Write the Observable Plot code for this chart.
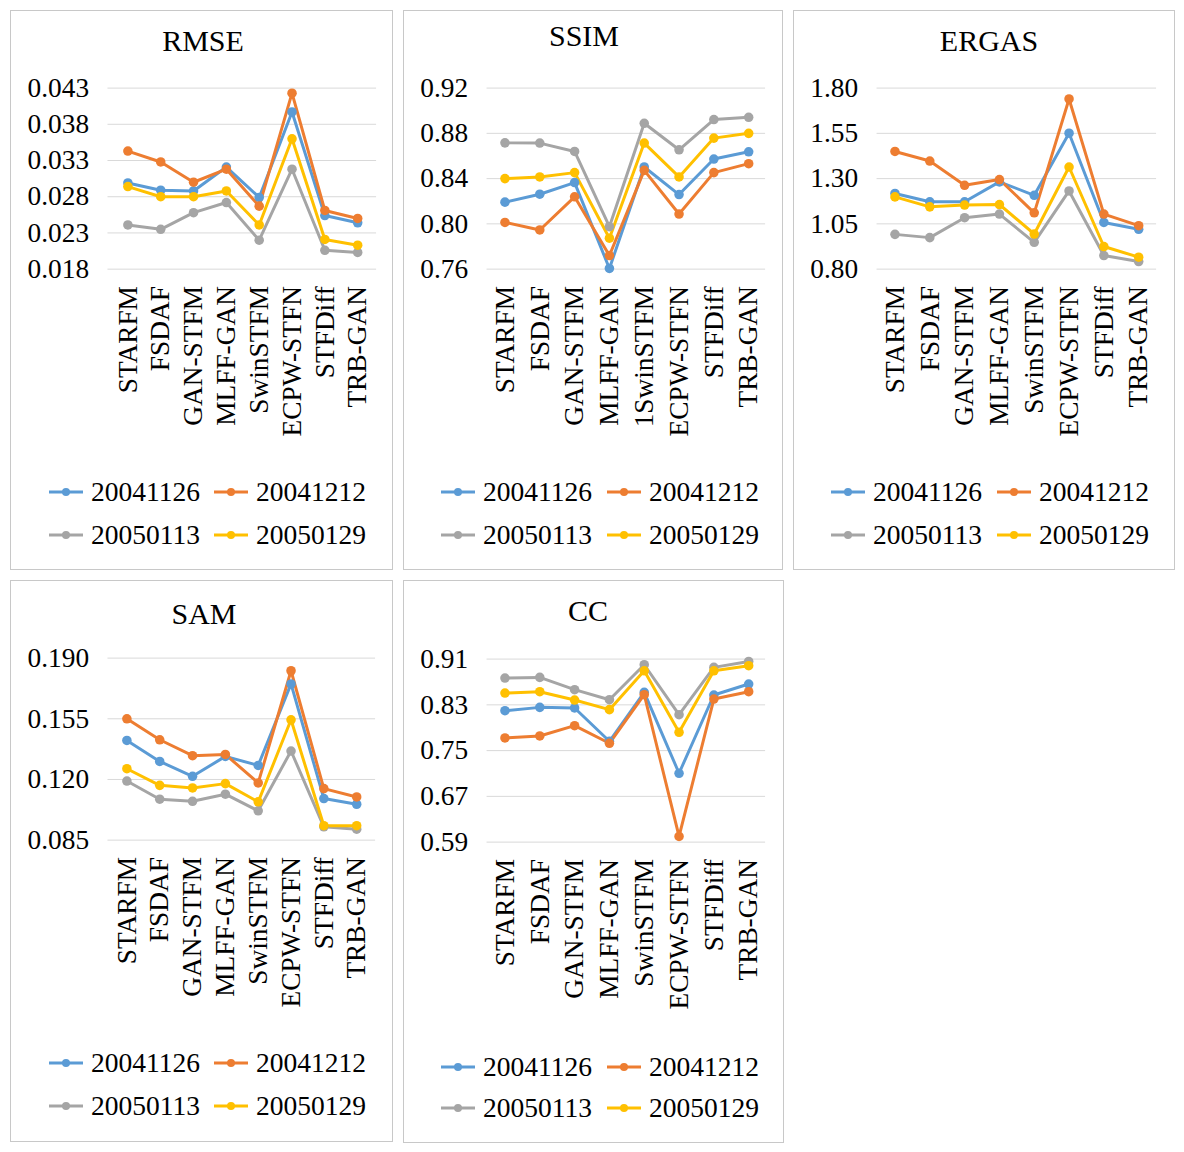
<!DOCTYPE html>
<html>
<head>
<meta charset="utf-8">
<script src="https://cdn.jsdelivr.net/npm/d3@7"></script>
<script src="https://cdn.jsdelivr.net/npm/@observablehq/plot@0.6"></script>
<style>
  html, body { margin: 0; padding: 0; background: #fff; }
  body { width: 1184px; height: 1152px; position: relative; font-family: "Liberation Serif", "Times New Roman", serif; color: #000; }
  .panel { position: absolute; border: 1px solid #c8c8c8; box-sizing: border-box; background: #fff; }
  .panel svg.plot { position: absolute; left: 0; top: 0; overflow: visible; }
  .title { position: absolute; font-size: 30px; line-height: 34px; white-space: nowrap; transform: translateX(-50%); }
  .leg { position: absolute; display: flex; align-items: center; height: 32px; font-size: 27.5px; white-space: nowrap; }
  .leg span { margin-left: 8px; }
</style>
</head>
<body>
<script>
// ---- data ----
const methods = ["STARFM", "FSDAF", "GAN-STFM", "MLFF-GAN", "SwinSTFM", "ECPW-STFN", "STFDiff", "TRB-GAN"];
const methodsSSIM = ["STARFM", "FSDAF", "GAN-STFM", "MLFF-GAN", "1SwinSTFM", "ECPW-STFN", "STFDiff", "TRB-GAN"];
const dates = ["20041126", "20041212", "20050113", "20050129"];
const colors = ["#5B9BD5", "#ED7D31", "#A5A5A5", "#FFC000"];

const rmse20041126 = [0.0299, 0.0289, 0.0288, 0.0321, 0.0279, 0.0397, 0.0254, 0.0244];
const rmse20041212 = [0.0343, 0.0328, 0.0300, 0.0318, 0.0267, 0.0423, 0.0261, 0.0250];
const rmse20050113 = [0.0241, 0.0235, 0.0258, 0.0272, 0.0220, 0.0318, 0.0206, 0.0203];
const rmse20050129 = [0.0294, 0.0280, 0.0280, 0.0288, 0.0241, 0.0360, 0.0221, 0.0213];
const rmseTicks = [0.018, 0.023, 0.028, 0.033, 0.038, 0.043];

const ssim20041126 = [0.8192, 0.8262, 0.8365, 0.7606, 0.8503, 0.8259, 0.8573, 0.8637];
const ssim20041212 = [0.8013, 0.7946, 0.8239, 0.7720, 0.8473, 0.8087, 0.8453, 0.8532];
const ssim20050113 = [0.8716, 0.8714, 0.8640, 0.7975, 0.8889, 0.8655, 0.8922, 0.8942];
const ssim20050129 = [0.8400, 0.8415, 0.8453, 0.7873, 0.8714, 0.8415, 0.8758, 0.8800];
const ssimTicks = [0.76, 0.80, 0.84, 0.88, 0.92];

const ergas20041126 = [1.218, 1.172, 1.172, 1.282, 1.208, 1.551, 1.058, 1.020];
const ergas20041212 = [1.450, 1.397, 1.263, 1.295, 1.111, 1.740, 1.104, 1.040];
const ergas20050113 = [0.992, 0.974, 1.084, 1.104, 0.948, 1.232, 0.875, 0.842];
const ergas20050129 = [1.199, 1.144, 1.154, 1.157, 0.994, 1.364, 0.925, 0.866];
const ergasTicks = [0.80, 1.05, 1.30, 1.55, 1.80];

const sam20041126 = [0.1425, 0.1304, 0.1218, 0.1333, 0.1281, 0.1751, 0.1090, 0.1057];
const sam20041212 = [0.1550, 0.1429, 0.1337, 0.1344, 0.1180, 0.1827, 0.1147, 0.1099];
const sam20050113 = [0.1191, 0.1086, 0.1074, 0.1115, 0.1019, 0.1364, 0.0927, 0.0913];
const sam20050129 = [0.1262, 0.1166, 0.1151, 0.1176, 0.1071, 0.1544, 0.0933, 0.0933];
const samTicks = [0.085, 0.120, 0.155, 0.190];

const cc20041126 = [0.8198, 0.8256, 0.8245, 0.7663, 0.8518, 0.7104, 0.8472, 0.8664];
const cc20041212 = [0.7721, 0.7756, 0.7936, 0.7628, 0.8477, 0.5999, 0.8402, 0.8530];
const cc20050113 = [0.8768, 0.8780, 0.8565, 0.8390, 0.9001, 0.8128, 0.8955, 0.9059];
const cc20050129 = [0.8507, 0.8530, 0.8384, 0.8216, 0.8896, 0.7820, 0.8896, 0.8984];
const ccTicks = [0.59, 0.67, 0.75, 0.83, 0.91];

// ---- panels ----
const H = 460;
const FS = 27.5;
const panels = [
  {title: "RMSE", labels: methods, series: [rmse20041126, rmse20041212, rmse20050113, rmse20050129], ticks: rmseTicks, fmt: ".3f",
   left: 10, top: 10, w: 383, h: 560, gl: 97, gr: 367, gt: 77, gb: 259, tx: 192, ty: 30, ly: [481, 524], lx: [38, 203]},
  {title: "SSIM", labels: methodsSSIM, series: [ssim20041126, ssim20041212, ssim20050113, ssim20050129], ticks: ssimTicks, fmt: ".2f",
   left: 403, top: 10, w: 380, h: 560, gl: 83, gr: 363, gt: 77, gb: 259, tx: 180, ty: 25, ly: [481, 524], lx: [37, 203]},
  {title: "ERGAS", labels: methods, series: [ergas20041126, ergas20041212, ergas20050113, ergas20050129], ticks: ergasTicks, fmt: ".2f",
   left: 793, top: 10, w: 382, h: 560, gl: 83, gr: 364, gt: 77, gb: 259, tx: 195, ty: 30, ly: [481, 524], lx: [37, 203]},
  {title: "SAM", labels: methods, series: [sam20041126, sam20041212, sam20050113, sam20050129], ticks: samTicks, fmt: ".3f",
   left: 10, top: 580, w: 383, h: 562, gl: 97, gr: 366, gt: 77, gb: 260, tx: 193, ty: 33, ly: [482, 525], lx: [38, 203]},
  {title: "CC", labels: methods, series: [cc20041126, cc20041212, cc20050113, cc20050129], ticks: ccTicks, fmt: ".2f",
   left: 403, top: 580, w: 381, h: 563, gl: 83, gr: 363, gt: 78, gb: 262, tx: 184, ty: 30, ly: [486, 527], lx: [37, 203]}
];

for (const cfg of panels) {
  const div = document.createElement("div");
  div.className = "panel";
  Object.assign(div.style, {left: cfg.left + "px", top: cfg.top + "px", width: cfg.w + "px", height: cfg.h + "px"});
  document.body.appendChild(div);

  const rows = [];
  cfg.series.forEach((vals, si) => vals.forEach((v, i) => rows.push({m: cfg.labels[i], s: dates[si], v})));

  const [y0, y1] = d3.extent(cfg.ticks);
  const svg = Plot.plot({
    width: cfg.w,
    height: H,
    marginTop: cfg.gt,
    marginBottom: H - cfg.gb,
    marginLeft: cfg.gl,
    marginRight: cfg.w - cfg.gr,
    style: {fontFamily: "'Liberation Serif', 'Times New Roman', serif", fontSize: FS + "px", color: "#000", background: "none", overflow: "visible"},
    x: {type: "point", domain: cfg.labels, padding: 0.5, align: 0.5},
    y: {domain: [y0, y1]},
    color: {domain: dates, range: colors},
    marks: [
      Plot.gridY(cfg.ticks, {stroke: "#d9d9d9", strokeOpacity: 1, strokeWidth: 1}),
      Plot.axisY(cfg.ticks, {tickSize: 0, tickPadding: 19, tickFormat: d3.format(cfg.fmt), fontSize: FS, label: null}),
      Plot.axisX({tickRotate: -90, tickSize: 0, tickPadding: 17, fontSize: FS, label: null}),
      Plot.line(rows, {x: "m", y: "v", z: "s", stroke: "s", strokeWidth: 3}),
      Plot.dot(rows, {x: "m", y: "v", fill: "s", r: 4.8})
    ]
  });
  svg.classList.add("plot");
  div.appendChild(svg);

  const t = document.createElement("div");
  t.className = "title";
  t.textContent = cfg.title;
  t.style.left = cfg.tx + "px";
  t.style.top = (cfg.ty - 17) + "px";
  div.appendChild(t);

  dates.forEach((d, i) => {
    const row = Math.floor(i / 2), col = i % 2;
    const it = document.createElement("div");
    it.className = "leg";
    it.style.left = cfg.lx[col] + "px";
    it.style.top = (cfg.ly[row] - 16) + "px";
    it.innerHTML = `<svg width="34" height="12"><line x1="0" x2="34" y1="6" y2="6" stroke="${colors[i]}" stroke-width="3"/><circle cx="17" cy="6" r="4" fill="${colors[i]}"/></svg><span>${d}</span>`;
    div.appendChild(it);
  });
}
</script>
</body>
</html>
